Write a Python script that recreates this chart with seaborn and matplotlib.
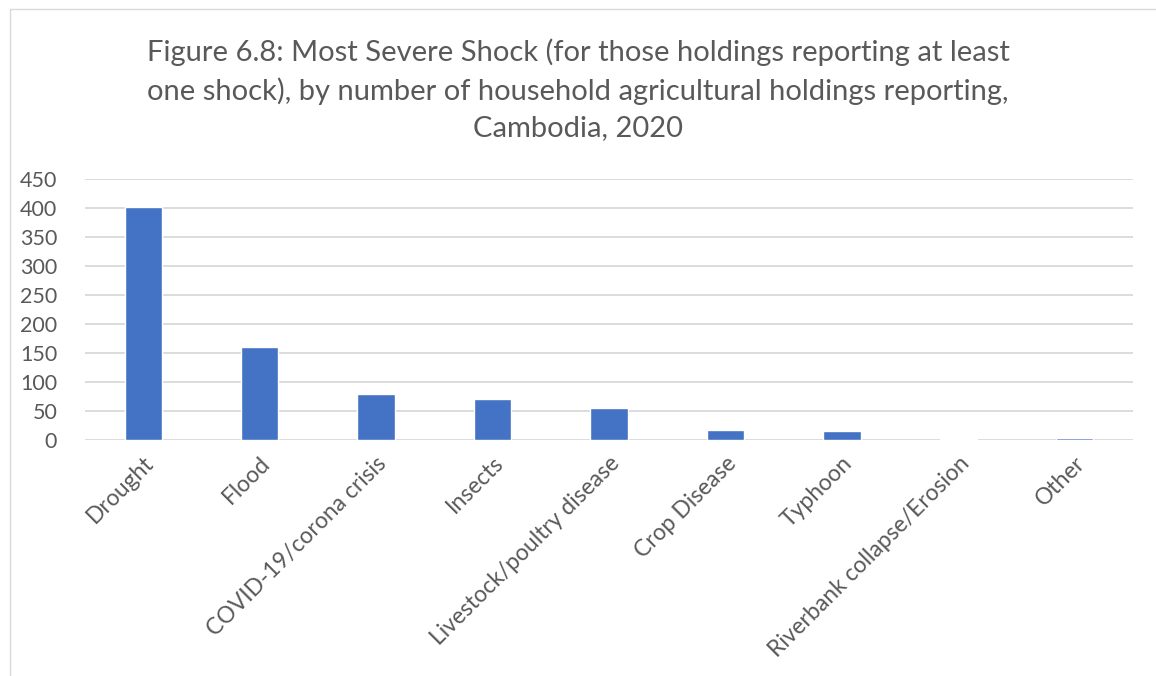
import matplotlib
matplotlib.use("Agg")
import matplotlib.pyplot as plt
import seaborn as sns
import pandas as pd
from matplotlib.lines import Line2D

# data
shocks = ["Drought", "Flood", "COVID-19/corona crisis", "Insects",
          "Livestock/poultry disease", "Crop Disease", "Typhoon",
          "Riverbank collapse/Erosion", "Other"]
holdings = [401, 160, 79, 71, 56, 17, 16, 2, 4]
y_ticks = [0, 50, 100, 150, 200, 250, 300, 350, 400, 450]

df = pd.DataFrame({"Shock": shocks, "Holdings": holdings})

sns.set_style("white")
plt.rcParams["font.family"] = ["Lato", "DejaVu Sans"]

fig = plt.figure(figsize=(11.56, 6.76), dpi=100)
ax = fig.add_axes([85 / 1156, 1 - 440 / 676, (1133 - 85) / 1156, 261 / 676])

sns.barplot(data=df, x="Shock", y="Holdings", color="#4472C4", width=0.32,
            saturation=1, ax=ax, zorder=3)

ax.set_ylim(0, 450)
ax.set_yticks(y_ticks)
ax.yaxis.grid(True, color="#d9d9d9", linewidth=1.3, zorder=0)
ax.set_axisbelow(True)
for s in ax.spines.values():
    s.set_visible(False)
ax.set_xlabel("")
ax.set_ylabel("")
ax.tick_params(axis="y", length=0, labelsize=15.5, labelcolor="#595959", pad=20)
ax.set_xticks(range(len(shocks)))
ax.set_xticklabels(shocks, rotation=45, ha="right", rotation_mode="anchor")
ax.tick_params(axis="x", length=0, labelsize=16.5, labelcolor="#595959", pad=9)

fig.text(0.5, 1 - 90 / 676,
         "Figure 6.8: Most Severe Shock (for those holdings reporting at least\n"
         "one shock), by number of household agricultural holdings reporting,\n"
         "Cambodia, 2020",
         ha="center", va="center", fontsize=21, color="#595959", linespacing=1.5)

# chart area border
fig.add_artist(Line2D([10 / 1156, 10 / 1156], [0, 1 - 9 / 676],
                      transform=fig.transFigure, color="#d9d9d9", linewidth=1))
fig.add_artist(Line2D([10 / 1156, 1], [1 - 9 / 676, 1 - 9 / 676],
                      transform=fig.transFigure, color="#d9d9d9", linewidth=1))

fig.savefig("out.png", dpi=100)
